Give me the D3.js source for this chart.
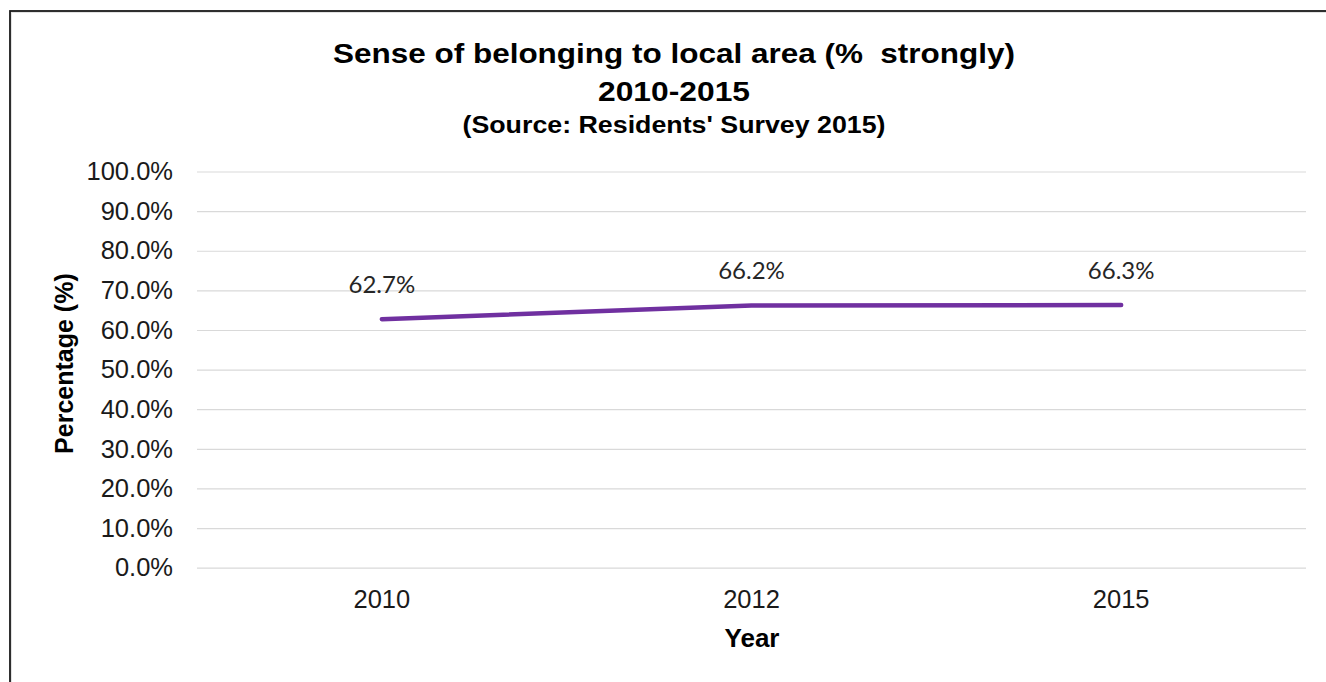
<!DOCTYPE html>
<html>
<head>
<meta charset="utf-8">
<script src="https://cdn.jsdelivr.net/npm/d3@7"></script>
<style>
  html, body { margin: 0; padding: 0; background: #fff; }
  svg { display: block; }
</style>
</head>
<body>
<svg id="chart" width="1326" height="682"></svg>
<script>
// Survey years and share of residents who feel they strongly belong
const years = ["2010", "2012", "2015"];
const values = [0.627, 0.662, 0.663];
const valueLabels = ["62.7%", "66.2%", "66.3%"];
const yTicks = [0, 0.1, 0.2, 0.3, 0.4, 0.5, 0.6, 0.7, 0.8, 0.9, 1.0];
const titleLines = [
  "Sense of belonging to local area (%  strongly)",
  "2010-2015"
];
const subtitle = "(Source: Residents' Survey 2015)";
const yTitle = "Percentage (%)";
const xTitle = "Year";

const svg = d3.select("#chart");
const W = 1326, H = 682;
const plot = { left: 197, right: 1306, top: 171.5, bottom: 567.7 };
const sans = "'Liberation Sans', Arial, sans-serif";

// outer frame (runs off the right and bottom edges)
svg.append("rect")
  .attr("x", 11).attr("y", 12)
  .attr("width", W + 20).attr("height", H + 20)
  .attr("fill", "none").attr("stroke", "#e2e2e2").attr("stroke-width", 2);
svg.append("rect")
  .attr("x", 10).attr("y", 11)
  .attr("width", W + 20).attr("height", H + 20)
  .attr("fill", "none").attr("stroke", "#1a1a1a").attr("stroke-width", 1.8);

const x = d3.scaleBand().domain(years).range([plot.left, plot.right]).padding(0);
const y = d3.scaleLinear().domain([0, 1]).range([plot.bottom, plot.top]);

// horizontal gridlines and y tick labels
const yAxis = d3.axisLeft(y)
  .tickValues(yTicks)
  .tickFormat(d3.format(".1%"))
  .tickSize(-(plot.right - plot.left))
  .tickPadding(24);
const gy = svg.append("g")
  .attr("transform", `translate(${plot.left},0)`)
  .call(yAxis);
gy.select(".domain").remove();
gy.selectAll(".tick line").attr("stroke", "#d9d9d9").attr("stroke-width", 1.2);
gy.selectAll(".tick text")
  .attr("font-family", sans)
  .attr("font-size", 25.5)
  .attr("fill", "#1a1a1a");

// x tick labels
const xAxis = d3.axisBottom(x).tickSize(0).tickPadding(22);
const gx = svg.append("g")
  .attr("transform", `translate(0,${plot.bottom})`)
  .call(xAxis);
gx.select(".domain").remove();
gx.selectAll(".tick text")
  .attr("font-family", sans)
  .attr("font-size", 25.5)
  .attr("fill", "#1a1a1a");

// series line
const line = d3.line()
  .x((d, i) => x(years[i]) + x.bandwidth() / 2)
  .y(d => y(d));
svg.append("path")
  .datum(values)
  .attr("d", line)
  .attr("fill", "none")
  .attr("stroke", "#7030a0")
  .attr("stroke-width", 4.5)
  .attr("stroke-linecap", "round")
  .attr("stroke-linejoin", "round");

// data labels above each point
svg.append("g").selectAll("text")
  .data(values)
  .join("text")
  .attr("x", (d, i) => x(years[i]) + x.bandwidth() / 2)
  .attr("y", d => y(d) - 26)
  .attr("text-anchor", "middle")
  .attr("font-family", "Lato, 'Open Sans', sans-serif")
  .attr("font-size", 24)
  .attr("fill", "#262626")
  .text((d, i) => valueLabels[i]);

// titles
function titleText(str, yPos, size, len) {
  svg.append("text")
    .attr("x", 674).attr("y", yPos)
    .attr("text-anchor", "middle")
    .attr("font-family", sans)
    .attr("font-weight", "bold").attr("font-size", size)
    .attr("fill", "#000")
    .attr("textLength", len)
    .attr("lengthAdjust", "spacingAndGlyphs")
    .attr("xml:space", "preserve")
    .text(str);
}
titleText(titleLines[0], 63, 28, 682);
titleText(titleLines[1], 101, 28, 152);
titleText(subtitle, 133, 23, 423);

// axis titles
svg.append("text")
  .attr("transform", `translate(73,${(plot.top + plot.bottom) / 2 - 6}) rotate(-90)`)
  .attr("text-anchor", "middle")
  .attr("font-family", sans)
  .attr("font-weight", "bold").attr("font-size", 25)
  .attr("fill", "#000")
  .text(yTitle);
svg.append("text")
  .attr("x", 752).attr("y", 647)
  .attr("text-anchor", "middle")
  .attr("font-family", sans)
  .attr("font-weight", "bold").attr("font-size", 26)
  .attr("fill", "#000")
  .text(xTitle);
</script>
</body>
</html>
